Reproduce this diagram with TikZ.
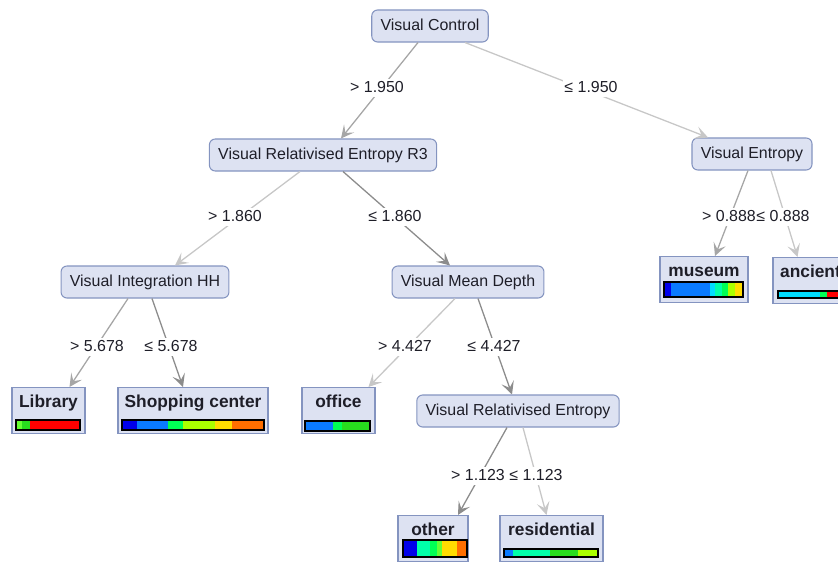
\documentclass[tikz,border=0pt]{standalone}
\usepackage{fontspec}
\setmainfont{Liberation Sans}
\usetikzlibrary{calc,arrows.meta}

\definecolor{boxfill}{RGB}{221,226,242}
\definecolor{boxline}{RGB}{132,148,192}
\definecolor{txt}{RGB}{30,30,40}
\definecolor{dblue}{RGB}{0,0,235}
\definecolor{mblue}{RGB}{10,122,255}
\definecolor{sgreen}{RGB}{0,255,85}
\definecolor{mgreen}{RGB}{40,220,30}
\definecolor{lgreen}{RGB}{100,255,50}
\definecolor{lime}{RGB}{170,255,0}
\definecolor{yel}{RGB}{255,220,0}
\definecolor{orng}{RGB}{255,110,0}
\definecolor{rd}{RGB}{255,0,0}
\definecolor{cyn}{RGB}{0,221,255}
\definecolor{aqua}{RGB}{0,255,170}

\tikzset{
  split/.style={draw=boxline, fill=boxfill, line width=0.9pt, rounded corners=5pt,
    minimum height=0.96cm, inner xsep=7.5pt, text height=10.2pt, text depth=2.6pt,
    text=txt, font=\fontsize{13.6}{16}\selectfont},
  leaf/.style={draw=boxline, fill=boxfill, line width=0.9pt, anchor=north,
    inner xsep=0pt, inner ysep=0pt, text height=17pt, text depth=22.5pt, text=txt,
    font=\fontsize{14.8}{17}\selectfont\bfseries},
  cond/.style={fill=white, inner sep=1pt, text height=9.8pt, text depth=2.8pt, text=txt,
    font=\fontsize{13.6}{16}\selectfont},
  edge/.style={line width=1.1pt, -{Stealth[length=11pt,width=11pt,inset=5pt]}},
  edark/.style={edge, draw=black!45},
  emid/.style={edge, draw=black!35},
  elight/.style={edge, draw=black!22},
  bar/.style={draw=black, line width=1pt}
}

\begin{document}
\begin{tikzpicture}[x=0.03cm, y=-0.03cm]
  \useasboundingbox (0,0) rectangle (838,563);

  % split nodes
  \node[split] (vc)  at (430,26)  {Visual Control};
  \node[split] (r3)  at (323,155) {Visual Relativised Entropy R3};
  \node[split] (ve)  at (752,154) {Visual Entropy};
  \node[split] (vih) at (145,282) {Visual Integration HH};
  \node[split] (vmd) at (468,282) {Visual Mean Depth};
  \node[split] (vre) at (518,411) {Visual Relativised Entropy};

  % leaves
  \node[leaf, minimum width=2.19cm] (lib)    at (48.5,387) {Library};
  \node[leaf, minimum width=4.5cm]  (shop)   at (193,387)  {Shopping center};
  \node[leaf, minimum width=2.19cm] (office) at (338.5,387) {office};
  \node[leaf, minimum width=2.64cm] (museum) at (704,256)  {museum};
  \node[leaf, minimum width=2.25cm] (anc)    at (810.5,257) {ancient};
  \node[leaf, minimum width=2.1cm]  (other)  at (433,515)  {other};
  \node[leaf, minimum width=3.09cm] (resid)  at (551.5,515) {residential};

  % class bars
  \foreach \a/\b/\c in {16/22/lgreen, 22/30/mgreen, 30/80/rd}
    \fill[\c] (\a,420) rectangle (\b,430);
  \draw[bar] (16,420) rectangle (80,430);
  \foreach \a/\b/\c in {122/137/dblue, 137/168/mblue, 168/183/sgreen, 183/215/lime, 215/232/yel, 232/264/orng}
    \fill[\c] (\a,420) rectangle (\b,430);
  \draw[bar] (122,420) rectangle (264,430);
  \foreach \a/\b/\c in {305/333/mblue, 333/342/sgreen, 342/370/mgreen}
    \fill[\c] (\a,421) rectangle (\b,431);
  \draw[bar] (305,421) rectangle (370,431);
  \foreach \a/\b/\c in {664/671/dblue, 671/710/mblue, 710/715/cyn, 715/722/aqua, 722/728/sgreen, 728/735/lime, 735/743/yel}
    \fill[\c] (\a,282) rectangle (\b,297);
  \draw[bar] (664,282) rectangle (743,297);
  \foreach \a/\b/\c in {778/820/cyn, 820/827/sgreen, 827/843/rd}
    \fill[\c] (\a,291) rectangle (\b,298);
  \draw[bar] (778,291) rectangle (843,298);
  \foreach \a/\b/\c in {403/417/dblue, 417/430/aqua, 430/437/sgreen, 437/442/lgreen, 442/457/yel, 457/467/orng}
    \fill[\c] (\a,540) rectangle (\b,557);
  \draw[bar] (403,540) rectangle (467,557);
  \foreach \a/\b/\c in {504/513/mblue, 513/550/aqua, 550/578/mgreen, 578/598/lime}
    \fill[\c] (\a,549) rectangle (\b,557);
  \draw[bar] (504,549) rectangle (598,557);

  % connectors
  \draw[emid]   ($(vc.south)+(-12,0)$)  -- ($(r3.north)+(18,0)$);
  \draw[elight] ($(vc.south)+(35,0)$)   -- ($(ve.north)+(-44,0)$);
  \draw[elight] ($(r3.south)+(-23,0)$)  -- ($(vih.north)+(30,0)$);
  \draw[edark]  ($(r3.south)+(20,0)$)   -- ($(vmd.north)+(-18,0)$);
  \draw[emid]   ($(ve.south)+(-4,0)$)   -- ($(museum.north)+(11,0)$);
  \draw[elight] ($(ve.south)+(19,0)$)   -- ($(anc.north)+(-13,0)$);
  \draw[emid]   ($(vih.south)+(-17,0)$) -- ($(lib.north)+(21,0)$);
  \draw[edark]  ($(vih.south)+(7,0)$)   -- ($(shop.north)+(-10,0)$);
  \draw[elight] ($(vmd.south)+(-13,0)$) -- ($(office.north)+(30,0)$);
  \draw[edark]  ($(vmd.south)+(10,0)$)  -- ($(vre.north)+(-6,0)$);
  \draw[edark]  ($(vre.south)+(-11,0)$) -- ($(other.north)+(25,0)$);
  \draw[elight] ($(vre.south)+(5,0)$)   -- ($(resid.north)+(-5,0)$);

  % split conditions
  \node[cond] (c1)  at (377,88)  {> 1.950};
  \node[cond] (c2)  at (591,88)  {≤ 1.950};
  \node[cond] (c3)  at (235,217) {> 1.860};
  \node[cond] (c4)  at (395,217) {≤ 1.860};
  \node[cond] (c5)  at (729,217) {> 0.888};
  \node[cond] (c6)  at (783,217) {≤ 0.888};
  \node[cond] (c7)  at (97,347)  {> 5.678};
  \node[cond] (c8)  at (171,347) {≤ 5.678};
  \node[cond] (c9)  at (405,347) {> 4.427};
  \node[cond] (c10) at (494,347) {≤ 4.427};
  \node[cond] (c11) at (478,476) {> 1.123};
  \node[cond] (c12) at (536,476) {≤ 1.123};
\end{tikzpicture}
\end{document}
